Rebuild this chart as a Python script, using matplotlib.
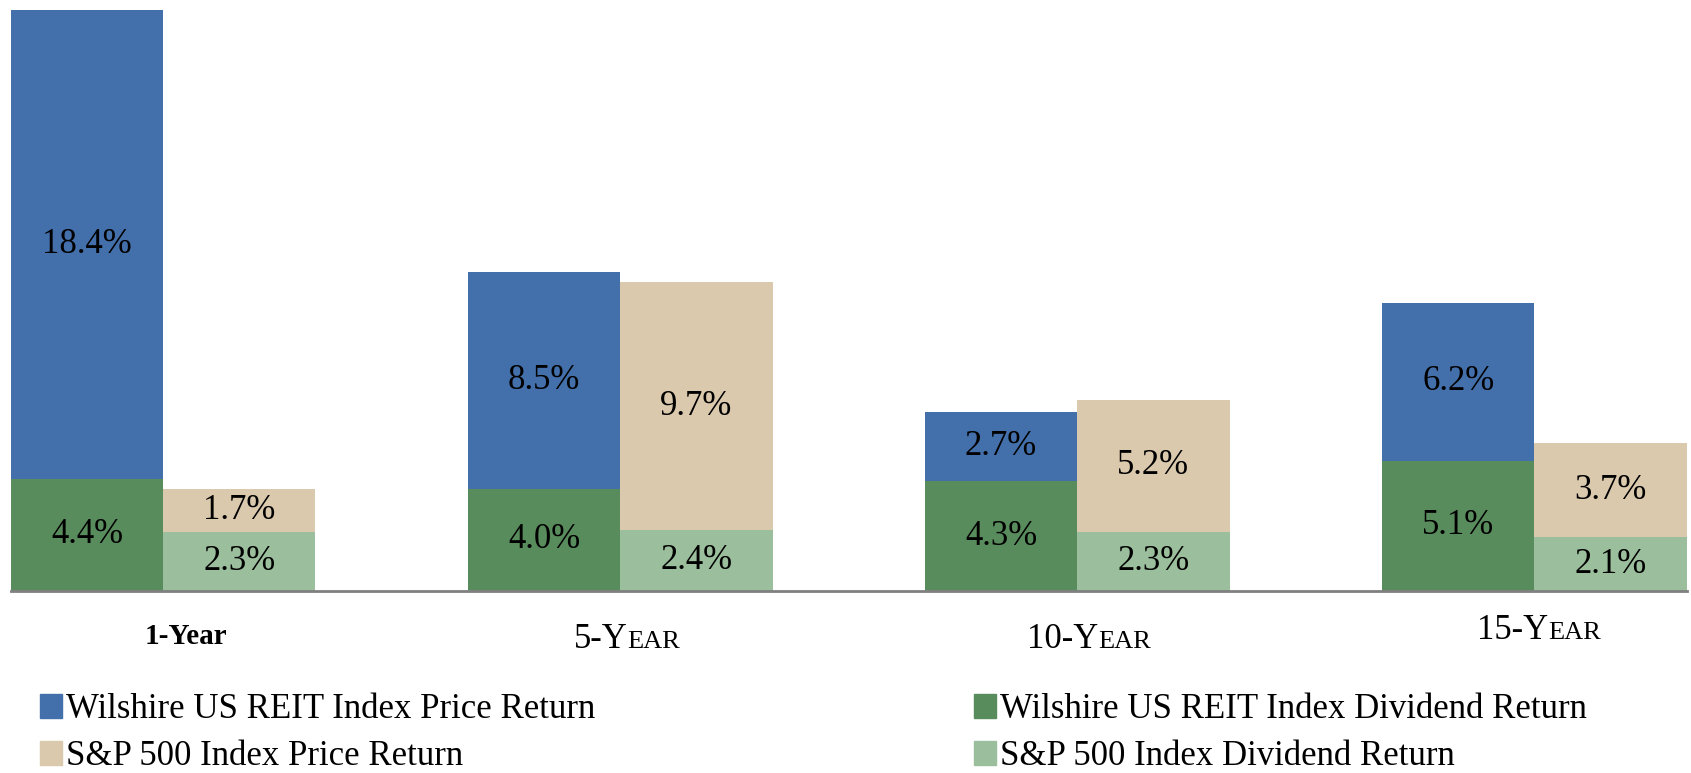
import matplotlib
matplotlib.use("Agg")
import matplotlib.pyplot as plt
from matplotlib.patches import Patch
import numpy as np

categories = ["1-Year", "5-Year", "10-Year", "15-Year"]
reit_div = [4.4, 4.0, 4.3, 5.1]
reit_price = [18.4, 8.5, 2.7, 6.2]
sp_div = [2.3, 2.4, 2.3, 2.1]
sp_price = [1.7, 9.7, 5.2, 3.7]

series_names = ["Wilshire US REIT Index Price Return", "S&P 500 Index Price Return",
                "Wilshire US REIT Index Dividend Return", "S&P 500 Index Dividend Return"]

C_BLUE = "#4370AB"
C_DGREEN = "#598C5C"
C_TAN = "#DBC9AD"
C_LGREEN = "#9BBF9C"

plt.rcParams['font.family'] = ['Liberation Serif', 'DejaVu Serif']

W, H = 1691, 773
fig = plt.figure(figsize=(W / 100, H / 100), dpi=100)
ax = fig.add_axes([10 / 1568, 1 - 548 / 717, (1564 - 10) / 1568, (548 - 9) / 717])

x = np.arange(len(categories))
bw = 1 / 3
xr = x - bw / 2
xs = x + bw / 2

ax.bar(xr, reit_div, width=bw, color=C_DGREEN, linewidth=0)
ax.bar(xr, reit_price, width=bw, bottom=reit_div, color=C_BLUE, linewidth=0)
ax.bar(xs, sp_div, width=bw, color=C_LGREEN, linewidth=0)
ax.bar(xs, sp_price, width=bw, bottom=sp_div, color=C_TAN, linewidth=0)

lab_fs = 25
for i in range(len(categories)):
    ax.text(xr[i], reit_div[i] / 2, f"{reit_div[i]:.1f}%", ha='center', va='center', fontsize=lab_fs)
    ax.text(xr[i], reit_div[i] + reit_price[i] / 2, f"{reit_price[i]:.1f}%", ha='center', va='center', fontsize=lab_fs)
    ax.text(xs[i], sp_div[i] / 2, f"{sp_div[i]:.1f}%", ha='center', va='center', fontsize=lab_fs)
    ax.text(xs[i], sp_div[i] + sp_price[i] / 2, f"{sp_price[i]:.1f}%", ha='center', va='center', fontsize=lab_fs)

ax.set_xlim(xr[0] - bw / 2, xs[-1] + bw / 2)
ax.set_ylim(0, max(np.array(reit_div) + np.array(reit_price)))
for s in ['top', 'left', 'right']:
    ax.spines[s].set_visible(False)
ax.spines['bottom'].set_color('#808080')
ax.spines['bottom'].set_linewidth(2)
ax.set_xticks([])
ax.set_yticks([])

# category labels (first plain bold, others in small caps)
label_dx = [0.05, 0.015, 0.025, 0.01]
label_y = [1 - 590 / 717, 1 - 590 / 717, 1 - 590 / 717, 1 - 582 / 717]
fig.canvas.draw()
renderer = fig.canvas.get_renderer()
big, small = 25, 19
for i, cat in enumerate(categories):
    xc_disp = ax.transData.transform((x[i] + label_dx[i], 0))[0]
    yf = label_y[i]
    if i == 0:
        fig.text(xc_disp / W, yf, cat, ha='center', va='center', fontsize=21, fontweight='bold')
        continue
    pre, rest = cat.split("-")
    parts = [(pre + "-" + rest[0], big), (rest[1:].upper(), small)]
    texts = []
    for t, fs in parts:
        tt = fig.text(0, yf, t, ha='left', va='baseline', fontsize=fs)
        texts.append(tt)
    widths = [tt.get_window_extent(renderer).width for tt in texts]
    start = xc_disp - sum(widths) / 2
    for tt, w in zip(texts, widths):
        tt.set_position((start / W, yf - 0.015))
        start += w

handles = [Patch(color=c) for c in [C_BLUE, C_TAN, C_DGREEN, C_LGREEN]]
leg_fs = 25
common = dict(loc='upper left', frameon=False, fontsize=leg_fs, handlelength=0.65, handleheight=0.65,
              handletextpad=0.1, labelspacing=0.4, borderaxespad=0, borderpad=0)
leg1 = fig.legend(handles[:2], series_names[:2], bbox_to_anchor=(37 / 1568, 1 - 643 / 717), **common)
leg2 = fig.legend(handles[2:], series_names[2:], bbox_to_anchor=(903 / 1568, 1 - 643 / 717), **common)

fig.savefig("out.png", dpi=100)
